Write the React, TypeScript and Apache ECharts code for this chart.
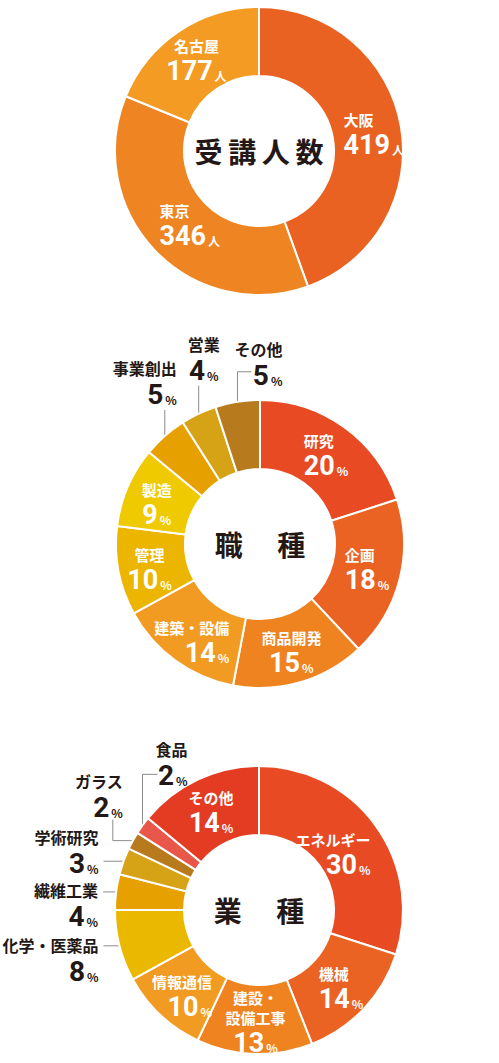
import { useEffect, useRef } from 'react';
import * as echarts from 'echarts';

// 受講人数
const cityNames = ['大阪', '東京', '名古屋'];
const cityCounts = [419, 346, 177];

// 職種 (%)
const jobNames = ['研究', '企画', '商品開発', '建築・設備', '管理', '製造', '事業創出', '営業', 'その他'];
const jobShares = [20, 18, 15, 14, 10, 9, 5, 4, 5];

// 業種 (%)
const industryNames = ['エネルギー', '機械', '建設・\n設備工事', '情報通信', '化学・医薬品', '繊維工業', '学術研究', 'ガラス', '食品', 'その他'];
const industryShares = [30, 14, 13, 10, 8, 4, 3, 2, 2, 14];

const centerTitles = ['受\u2009講\u2009人\u2009数', '職\u3000 種', '業\u3000 種'];

const cityColors = ['#E96221', '#EE8522', '#F39B22'];
const jobColors = ['#E84A23', '#EA6323', '#EE8320', '#F29B22', '#EBB500', '#EFCA00', '#E6A100', '#D7A316', '#B77A1D'];
const industryColors = ['#E84A23', '#EA6323', '#EE8320', '#F29B22', '#EBB800', '#E6A100', '#D7A316', '#B77A1D', '#E8574A', '#E43C22'];

// text alignment inside each label block (l / c / r)
const cityAlign = ['l', 'l', 'c'];
const jobAlign = ['l', 'l', 'c', 'r', 'c', 'c', 'r', 'c', 'r'];
const industryAlign = ['r', 'l', 'c', 'r', 'r', 'r', 'r', 'r', 'r', 'c'];

const CENTERS = [[259, 151], [260, 544], [259, 910]];
const RADIUS = [75, 144];

const JP = '"Noto Sans CJK JP", "Noto Sans", sans-serif';
const NUM = 'Roboto, "Noto Sans", sans-serif';
const DARK = '#231815';

type OuterSpec = { dx: number; dy: number; align: string; line: number[][] };

// nudges of the labels that sit inside the ring
const cityShift: Record<number, number[]> = { 0: [4, 2], 1: [12, -4], 2: [0, 2] };
const jobShift: Record<number, number[]> = { 0: [0, 2], 1: [-2, -3], 3: [-2, 7], 4: [0, 4], 5: [0, 4] };
const industryShift: Record<number, number[]> = { 0: [-17, 10], 1: [0, 1], 2: [0, -1], 3: [0, 4], 9: [0, 4] };

// labels outside the ring, placed relative to the anchor on the outer edge
const jobOuter: Record<number, OuterSpec> = {
  6: { dx: 12, dy: -78, align: 'right', line: [[0, 0], [0, -26]] },
  7: { dx: 5, dy: -80, align: 'center', line: [[0, 0], [0, -28]] },
  8: { dx: 45, dy: -63, align: 'right', line: [[0, 0], [0, -30], [14, -30]] },
};
const industryOuter: Record<number, OuterSpec> = {
  4: { dx: -21, dy: -11, align: 'right', line: [[0, 0], [-16, 0]] },
  5: { dx: -18, dy: -12, align: 'right', line: [[0, 0], [-13, 0]] },
  6: { dx: -25, dy: -35, align: 'right', line: [[0, 0], [-20, 0]] },
  7: { dx: -10, dy: -70, align: 'right', line: [[0, 0], [-20, 0], [-20, -21]] },
  8: { dx: 45, dy: -87, align: 'right', line: [[0, 0], [0, -51], [15, -51]] },
};

function richFor(color: string, nameSize: number, numSize: number) {
  const r: any = {};
  for (const a of ['left', 'center', 'right']) {
    const k = a[0];
    r['n' + k] = { fontFamily: JP, fontWeight: 'bold', fontSize: nameSize, lineHeight: nameSize + 5, color, align: a };
    r['v' + k] = { fontFamily: NUM, fontWeight: 'bold', fontSize: numSize, lineHeight: numSize + 4, color, align: a };
    r['u' + k] = {
      fontFamily: JP, fontWeight: 'bold', fontSize: 12, lineHeight: 14, color, align: a,
      verticalAlign: 'bottom', padding: [0, 0, 5, 2],
    };
  }
  return r;
}

const innerRich = richFor('#fff', 15, 27);
const outerRich = richFor(DARK, 16, 28);

function buildData(names: string[], values: number[], colors: string[], aligns: string[], unit: string, outer: Record<number, OuterSpec>) {
  return names.map((name, i) => {
    const k = aligns[i];
    const item: any = {
      name,
      value: values[i],
      itemStyle: { color: colors[i] },
      label: { formatter: `{n${k}|${name}}\n{v${k}|${values[i]}}{u${k}|${unit}}` },
    };
    if (outer[i]) {
      item.label = { ...item.label, position: 'outside', rich: outerRich };
      item.labelLine = { show: true, lineStyle: { color: '#8c8c8c', width: 1 } };
    }
    return item;
  });
}

function layoutFor(specs: Record<number, OuterSpec>, shifts: Record<number, number[]>) {
  return (p: any) => {
    const s = specs[p.dataIndex];
    if (s && p.labelLinePoints) {
      const [ax, ay] = p.labelLinePoints[0];
      return {
        x: ax + s.dx,
        y: ay + s.dy,
        align: s.align,
        verticalAlign: 'top',
        labelLinePoints: s.line.map(([x, y]) => [ax + x, ay + y]),
      };
    }
    const sh = shifts[p.dataIndex] || [0, 0];
    const r = p.labelRect;
    return {
      x: r.x + r.width / 2 + sh[0],
      y: r.y + r.height / 2 + sh[1],
      align: 'center',
      verticalAlign: 'middle',
    };
  };
}

function pie(center: number[], data: any[], specs: Record<number, OuterSpec>, shifts: Record<number, number[]>) {
  return {
    type: 'pie',
    center,
    radius: RADIUS,
    startAngle: 90,
    clockwise: true,
    silent: true,
    avoidLabelOverlap: false,
    itemStyle: { borderColor: '#fff', borderWidth: 2 },
    label: { show: true, position: 'inside', overflow: 'none', rich: innerRich },
    labelLine: { show: false },
    labelLayout: layoutFor(specs, shifts),
    data,
  };
}

export default function App() {
  const chartRef = useRef<HTMLDivElement>(null);

  useEffect(() => {
    if (!chartRef.current) return;
    const chart = echarts.init(chartRef.current, undefined, { renderer: 'svg' });

    const option = {
      animation: false,
      backgroundColor: '#fff',
      graphic: CENTERS.map((c, i) => ({
        type: 'text',
        x: c[0],
        y: c[1],
        style: {
          text: centerTitles[i],
          fontSize: 28,
          fontWeight: 'bold',
          fontFamily: JP,
          fill: DARK,
          align: 'center',
          verticalAlign: 'middle',
          textAlign: 'center',
          textVerticalAlign: 'middle',
        },
      })),
      series: [
        pie(CENTERS[0], buildData(cityNames, cityCounts, cityColors, cityAlign, '人', {}), {}, cityShift),
        pie(CENTERS[1], buildData(jobNames, jobShares, jobColors, jobAlign, '%', jobOuter), jobOuter, jobShift),
        pie(CENTERS[2], buildData(industryNames, industryShares, industryColors, industryAlign, '%', industryOuter), industryOuter, industryShift),
      ],
    };

    chart.setOption(option);

    return () => {
      chart.dispose();
    };
  }, []);

  return (
    <div
      ref={chartRef}
      style={{ position: 'absolute', left: 0, top: 0, width: '499px', height: '1063px' }}
    />
  );
}
